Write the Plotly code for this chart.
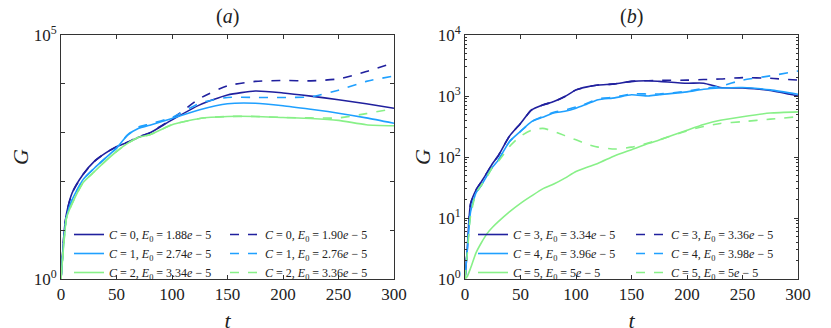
import plotly.graph_objects as go
from plotly.subplots import make_subplots

# panel (a)
t_a = [0, 3, 5, 10, 20, 30, 40, 50, 60, 70, 80, 100, 125, 150, 175, 200, 225, 250, 275, 300]
g_c0_solid = [1, 10, 22, 58, 140, 257, 380, 513, 630, 800, 980, 1820, 3700, 5900, 7100, 6500, 5600, 4700, 3900, 3160]
g_c0_dash = [1, 10, 22, 58, 140, 257, 380, 513, 640, 820, 1000, 1900, 5000, 9100, 11200, 11700, 11500, 12600, 17800, 26900]
g_c1_solid = [1, 8, 19, 42, 110, 186, 300, 480, 890, 1230, 1420, 1950, 2950, 3900, 4000, 3550, 3000, 2500, 2000, 1550]
g_c1_dash = [1, 8, 19, 42, 110, 186, 300, 480, 900, 1300, 1500, 2050, 4000, 5250, 5250, 5250, 5400, 7400, 11200, 14500]
g_c2_solid = [1, 7, 18, 35, 95, 158, 260, 410, 600, 800, 900, 1450, 1950, 2140, 2140, 2040, 1950, 1780, 1450, 1380]
g_c2_dash = [1, 7, 18, 35, 95, 158, 260, 410, 600, 800, 900, 1450, 1950, 2140, 2140, 2040, 2000, 2000, 2450, 3100]

# panel (b)
t_b = [0, 2, 5, 10, 15, 20, 25, 30, 40, 50, 60, 70, 80, 90, 100, 110, 120, 135, 150, 165, 175, 200, 215, 230, 250, 275, 300]
g_c3_solid = [1, 3, 17, 29, 40, 56, 79, 105, 219, 355, 590, 710, 810, 980, 1260, 1410, 1510, 1580, 1740, 1780, 1740, 1620, 1620, 1380, 1350, 1230, 1000]
g_c3_dash = [1, 3, 17, 29, 40, 56, 79, 105, 219, 355, 590, 710, 810, 980, 1260, 1410, 1510, 1580, 1740, 1780, 1800, 1820, 1860, 1900, 2000, 1950, 1820]
g_c4_solid = [1, 2.8, 12.6, 26, 35, 50, 69, 89, 178, 263, 380, 447, 525, 562, 631, 741, 871, 933, 1050, 1000, 1050, 1170, 1290, 1350, 1380, 1260, 1070]
g_c4_dash = [1, 2.8, 12.6, 26, 35, 50, 69, 89, 178, 263, 380, 460, 540, 590, 660, 760, 900, 960, 1080, 1080, 1080, 1200, 1330, 1450, 1820, 2140, 2570]
g_c5_solid = [1, 1.1, 1.5, 2.7, 4, 5.6, 7.1, 8.7, 12.6, 17.4, 23, 30, 36, 45, 58, 68, 79, 105, 132, 166, 190, 275, 340, 400, 457, 525, 550]
g_c5_dash = [1, 2.5, 10.7, 25.7, 35, 48, 69, 85, 148, 219, 275, 295, 263, 224, 191, 162, 145, 135, 145, 170, 191, 269, 316, 355, 380, 417, 457]

COLOURS = ["#20209e", "#1fa0ff", "#88f088"]
SERIF = "Liberation Serif, DejaVu Serif, serif"
INK = "#222222"
W, H = 831, 328
PAGE_OFFSET = 8  # the page body margin shifts the figure by this much


def px_x(x):
    return (x - PAGE_OFFSET) / W


def px_y(y):
    return 1 - (y - PAGE_OFFSET) / H


def label(c, e):
    return f"<i>C</i> = {c}, <i>E</i><sub>0</sub> = {e}<i>e</i> − 5"


panel_a = [
    (g_c0_solid, g_c0_dash, 0, "1.88", "1.90"),
    (g_c1_solid, g_c1_dash, 1, "2.74", "2.76"),
    (g_c2_solid, g_c2_dash, 2, "3.34", "3.36"),
]
panel_b = [
    (g_c3_solid, g_c3_dash, 3, "3.34", "3.36"),
    (g_c4_solid, g_c4_dash, 4, "3.96", "3.98"),
    (g_c5_solid, g_c5_dash, 5, "5", "5"),
]

fig = make_subplots(rows=1, cols=2)

# one legend per column of entries: solid / dashed, for each panel
panels = [(t_a, panel_a, "legend", "legend2"), (t_b, panel_b, "legend3", "legend4")]
for col, (t, panel, leg_solid, leg_dash) in enumerate(panels, start=1):
    for i, (solid, dash, c, e_s, e_d) in enumerate(panel):
        for vals, e, style, leg in [(solid, e_s, "solid", leg_solid), (dash, e_d, "dash", leg_dash)]:
            fig.add_trace(
                go.Scatter(
                    x=t,
                    y=vals,
                    mode="lines",
                    name=label(c, e),
                    line=dict(color=COLOURS[i], width=1.6, dash=style, shape="spline", smoothing=0.6),
                    legend=leg,
                ),
                row=1,
                col=col,
            )

axis_common = dict(
    showline=True,
    mirror="allticks",
    linecolor="#333333",
    linewidth=1,
    ticks="inside",
    ticklen=4,
    tickcolor="#333333",
    showgrid=False,
    zeroline=False,
    automargin=False,
    tickfont=dict(family=SERIF, size=17, color=INK),
)

xaxis = dict(
    axis_common,
    range=[0, 300],
    tickvals=[0, 50, 100, 150, 200, 250, 300],
    title=dict(text="<i>t</i>", font=dict(family=SERIF, size=22, color=INK), standoff=9),
)
y_domain = [px_y(279), px_y(35)]


def legend_at(x_px, y_px):
    return dict(
        orientation="v",
        x=px_x(x_px),
        y=px_y(y_px),
        xanchor="left",
        yanchor="top",
        tracegroupgap=0,
        itemwidth=30,
        borderwidth=0,
        bgcolor="rgba(0,0,0,0)",
        font=dict(family=SERIF, size=12, color=INK),
    )


fig.update_layout(
    width=W,
    height=H,
    margin=dict(l=0, r=0, t=0, b=0, autoexpand=False),
    plot_bgcolor="white",
    paper_bgcolor="white",
    xaxis=dict(xaxis, domain=[px_x(61), px_x(394)]),
    xaxis2=dict(xaxis, domain=[px_x(465), px_x(798)]),
    yaxis=dict(
        axis_common,
        type="log",
        range=[0, 5],
        domain=y_domain,
        tickvals=[1, 10, 100, 1000, 10000, 100000],
        ticktext=["10<sup>0</sup>", "", "", "", "", "10<sup>5</sup>"],
        title=dict(text="<i>G</i>", font=dict(family=SERIF, size=22, color=INK), standoff=8),
    ),
    yaxis2=dict(
        axis_common,
        type="log",
        range=[0, 4],
        domain=y_domain,
        tickvals=[1, 10, 100, 1000, 10000],
        ticktext=["10<sup>0</sup>", "10<sup>1</sup>", "10<sup>2</sup>", "10<sup>3</sup>", "10<sup>4</sup>"],
        minor=dict(ticks="inside", ticklen=2, tickcolor="#333333", dtick="D1", showgrid=False),
        title=dict(text="<i>G</i>", font=dict(family=SERIF, size=22, color=INK), standoff=0),
    ),
    legend=legend_at(69, 220),
    legend2=legend_at(225, 220),
    legend3=legend_at(473, 220),
    legend4=legend_at(631, 220),
    annotations=[
        dict(text="(<i>a</i>)", x=px_x(227), y=px_y(16), xref="paper", yref="paper", xanchor="center",
             yanchor="middle", showarrow=False, font=dict(family=SERIF, size=20, color=INK)),
        dict(text="(<i>b</i>)", x=px_x(631), y=px_y(16), xref="paper", yref="paper", xanchor="center",
             yanchor="middle", showarrow=False, font=dict(family=SERIF, size=20, color=INK)),
    ],
)

fig.write_html("out.html")
